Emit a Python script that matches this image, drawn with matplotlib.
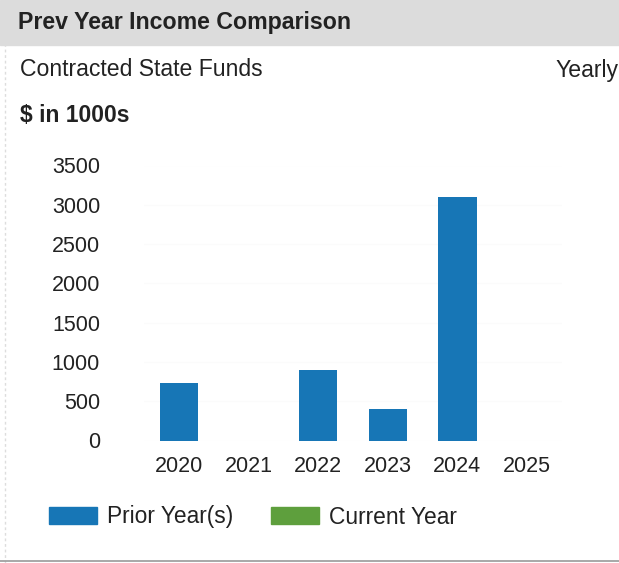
import matplotlib
matplotlib.use("Agg")
import matplotlib.pyplot as plt
from matplotlib.patches import Rectangle, Patch

plt.rcParams['font.family'] = ['Liberation Sans', 'DejaVu Sans']

# income in $1000s per year
years = ["2020", "2021", "2022", "2023", "2024", "2025"]
prior_income = [735, 0, 900, 395, 3100, 0]
y_ticks = [0, 500, 1000, 1500, 2000, 2500, 3000, 3500]

blue = "#1776b6"
green = "#5e9f3d"
text_col = "#222222"

W, H = 619, 563
fig = plt.figure(figsize=(W / 100, H / 100), dpi=100)

# header band
fig.patches.append(Rectangle((0, 1 - 45 / H), 1, 45 / H, transform=fig.transFigure,
                             color="#dcdcdc", zorder=0))
fig.text(18 / W, 1 - 22 / H, "Prev Year Income Comparison", fontsize=16.7,
         fontweight="bold", color=text_col, va="center")
fig.text(20 / W, 1 - 70 / H, "Contracted State Funds", fontsize=16.6,
         color=text_col, va="center")
fig.text(618 / W, 1 - 70 / H, "Yearly", fontsize=16.6, color=text_col,
         va="center", ha="right")
fig.text(20 / W, 1 - 116 / H, "$ in 1000s", fontsize=16.5, fontweight="bold",
         color=text_col, va="center")

# thin frame lines at left and bottom of the panel
fig.add_artist(plt.Line2D([5 / W, 5 / W], [0, 1 - 45 / H], transform=fig.transFigure,
                          color="#dddddd", lw=1, ls=(0, (2, 2))))
fig.add_artist(plt.Line2D([0, 1], [2 / H, 2 / H], transform=fig.transFigure,
                          color="#9a9a9a", lw=1.2))

ax = fig.add_axes([144.2 / W, (H - 440.5) / H, 417.6 / W, 275 / H])
x = list(range(len(years)))
bars = ax.bar(x, prior_income, width=0.553, color=blue, zorder=2)

ax.set_xlim(-0.5, 5.5)
ax.set_ylim(0, 3500)
ax.set_xticks(x)
ax.set_xticklabels(years)
ax.set_yticks(y_ticks)
ax.tick_params(axis="both", length=0, labelsize=15.5, colors=text_col)
ax.tick_params(axis="y", pad=31.8)
ax.tick_params(axis="x", pad=11)
ax.grid(axis="y", color="#fbfbfb", lw=0.8, zorder=0)
for s in ax.spines.values():
    s.set_visible(False)

handles = [Patch(color=blue, label="Prior Year(s)"),
           Patch(color=green, label="Current Year")]
fig.legend(handles=handles, loc="center left", bbox_to_anchor=(49 / W, (H - 517) / H),
           ncol=2, frameon=False, fontsize=16.4, handlelength=2.1,
           handleheight=0.78, handletextpad=0.45, columnspacing=1.65,
           borderpad=0, borderaxespad=0, labelcolor=text_col)

fig.savefig("out.png", dpi=100)
